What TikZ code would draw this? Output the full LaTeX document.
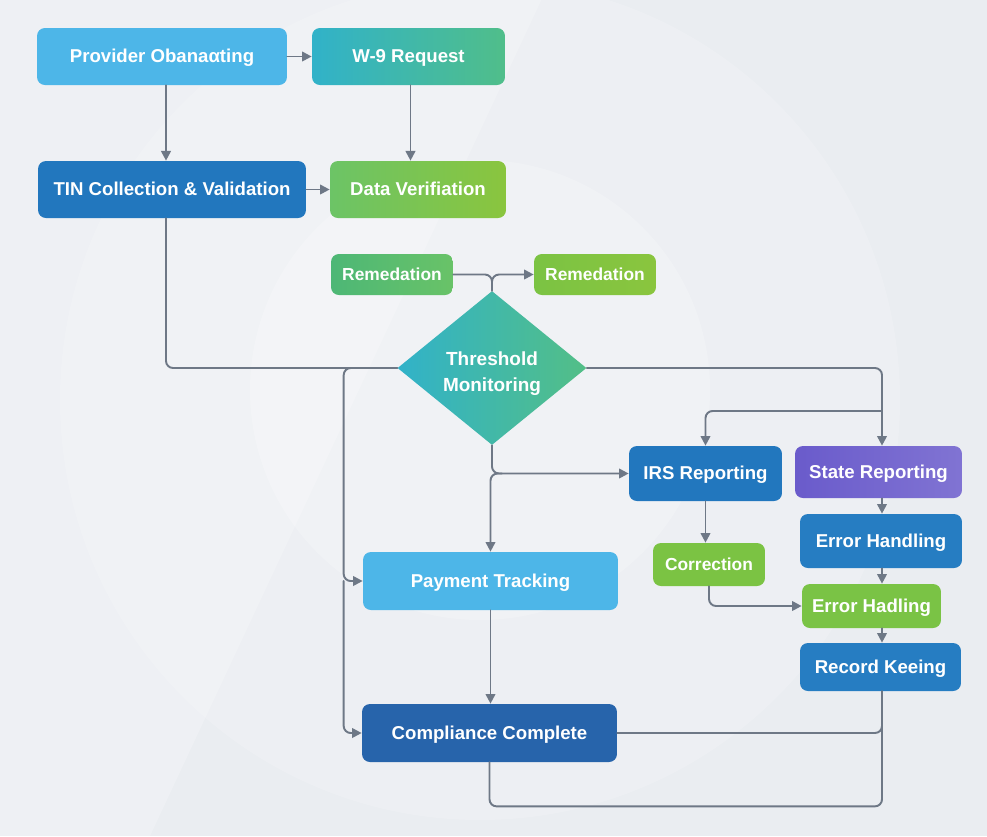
\documentclass[tikz,border=0pt]{standalone}
\usepackage{fontspec}
\setmainfont{Liberation Sans}
\usepackage{tikz}
\usetikzlibrary{arrows.meta, calc, shapes.geometric}
\definecolor{bgGray}{HTML}{EAEDF1}
\definecolor{lnGray}{HTML}{6E7886}
\definecolor{skyBlue}{HTML}{4DB6E8}
\definecolor{midBlue}{HTML}{2277BE}
\definecolor{deepBlue}{HTML}{2764AB}
\definecolor{tealA}{HTML}{31B2C9}
\definecolor{tealB}{HTML}{50BE8A}
\definecolor{grnA}{HTML}{6CC466}
\definecolor{grnB}{HTML}{8AC53E}
\definecolor{grnC}{HTML}{4DB776}
\definecolor{grnD}{HTML}{7BC343}
\definecolor{violet}{HTML}{6A5BCB}

\begin{document}
\begin{tikzpicture}[x=0.02cm, y=-0.02cm, line cap=round,
		box/.style 2 args={rounded corners=4.5pt, text=white, inner sep=0pt,
			align=center, minimum width=#1, minimum height=#2, text depth=0.5pt,
			font=\fontsize{10.6}{13}\selectfont\bfseries},
		small/.style={font=\fontsize{9.9}{12}\selectfont\bfseries},
		line/.style={draw=lnGray, line width=1.1pt, rounded corners=4pt},
		arrow/.style={line, -{Triangle[length=5.5pt, width=5.5pt]}}
	]

	% canvas
	\useasboundingbox (0,0) rectangle (987,836);
	\clip (0,0) rectangle (987,836);
	\fill[bgGray] (0,0) rectangle (987,836);
	\fill[white, opacity=0.22] (-80,836) -- (-80,-40) -- (560,-40) -- (150,836) -- cycle;
	\fill[white, opacity=0.16] (480,400) circle (420);
	\fill[white, opacity=0.22] (480,390) circle (230);

	% nodes
	\node[box={5cm}{1.14cm}, fill=skyBlue] (PO) at (162,56.5) {Provider Obanaαting};
	\node[box={3.86cm}{1.14cm}, left color=tealA, right color=tealB] (W9) at (408.5,56.5) {W-9 Request};
	\node[box={5.36cm}{1.14cm}, fill=midBlue] (TIN) at (172,189.5) {TIN Collection \& Validation};
	\node[box={3.52cm}{1.14cm}, left color=grnA, right color=grnB] (DV) at (418,189.5) {Data Verifiation};

	\node[box={2.44cm}{0.82cm}, small, left color=grnC, right color=grnA!90!grnC] (RL) at (392,274.5) {Remedation};
	\node[box={2.44cm}{0.82cm}, small, left color=grnD, right color=grnB] (RR) at (595,274.5) {Remedation};

	\node[diamond, inner sep=0pt, minimum width=3.78cm, minimum height=3.08cm,
		left color=tealA, right color=tealB!90!grnA] (TM) at (492,368) {};
	\node[text=white, align=center, font=\fontsize{10.8}{14.7}\selectfont\bfseries] (TMt) at (492,374) {Threshold\\Monitoring};

	\node[box={3.06cm}{1.1cm}, fill=midBlue] (IRS) at (705.5,473.5) {IRS Reporting};
	\node[box={3.34cm}{1.04cm}, left color=violet, right color=violet!85!white] (SR) at (878.5,472) {State Reporting};
	\node[box={3.24cm}{1.08cm}, fill=midBlue!90!skyBlue] (EH) at (881,541) {Error Handling};
	\node[box={2.24cm}{0.86cm}, small, fill=grnD] (CO) at (709,564.5) {Correction};
	\node[box={2.78cm}{0.88cm}, fill=grnD!95!grnA] (EH2) at (871.5,606) {Error Hadling};
	\node[box={3.22cm}{0.96cm}, fill=midBlue!90!skyBlue] (RK) at (880.5,667) {Record Keeing};

	\node[box={5.1cm}{1.16cm}, fill=skyBlue] (PT) at (490.5,581) {Payment Tracking};
	\node[box={5.1cm}{1.16cm}, fill=deepBlue] (CC) at (489.5,733) {Compliance Complete};

	\coordinate (X) at (882,0);
	\coordinate (L) at ($(PT.west)+(-19,0)$);

	% connectors
	\draw[arrow] (PO) -- (W9);
	\draw[arrow] ($(PO.south)+(4,0)$) -- ($(PO.south |- TIN.north)+(4,0)$);
	\draw[arrow] ($(W9.south)+(2,0)$) -- ($(W9.south |- DV.north)+(2,0)$);
	\draw[arrow] (TIN) -- (DV);
	\draw[line] ($(TIN.south)+(-6,0)$) |- (TM.west);

	\draw[line] (RL.east) -| (TM.north);
	\draw[arrow] (TM.north) |- (RR.west);

	\draw[arrow] (TM.west) -| (L) -- (PT.west);
	\draw[arrow] (L) |- (CC.west);

	\draw[arrow] (TM.east) -| (SR.north -| X);
	\draw[arrow] ($(TM.east -| X)+(0,43)$) -| (IRS.north);
	\draw[arrow] (TM.south) |- (IRS.west);
	\draw[arrow] ($(TM.south |- IRS.west)+(10,0)$) -| (PT.north);

	\draw[arrow] (IRS.south) -- (IRS.south |- CO.north);
	\draw[arrow] (CO.south) |- (EH2.west);
	\draw[arrow] (SR.south -| X) -- (EH.north -| X);
	\draw[arrow] (EH.south -| X) -- (EH2.north -| X);
	\draw[arrow] (EH2.south -| X) -- (RK.north -| X);

	\draw[line] (RK.south -| X) |- (CC.east);
	\draw[line] (RK.south -| X) |- ($(CC.south)+(0,44)$) -- (CC.south);

	\draw[arrow] (PT.south) -- (PT.south |- CC.north);

\end{tikzpicture}
\end{document}
